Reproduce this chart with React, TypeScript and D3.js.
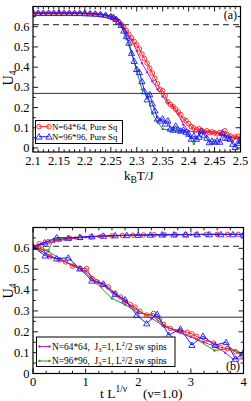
import { useEffect, useRef } from 'react'
import * as d3 from 'd3'

// ── (a) U4 vs k_B T/J, pure square lattice ───────────────────────────────
const TEMPS = [
  2.10, 2.11, 2.12, 2.13, 2.14, 2.15, 2.16, 2.17, 2.18, 2.19, 2.20, 2.21, 2.22, 2.23, 2.24, 2.25,
  2.255, 2.26, 2.265, 2.27, 2.275, 2.28, 2.285, 2.29, 2.295, 2.30,
  2.305, 2.31, 2.315, 2.32, 2.325, 2.33, 2.335, 2.34, 2.345, 2.35,
  2.355, 2.36, 2.365, 2.37, 2.375, 2.38, 2.385, 2.39, 2.395, 2.40,
  2.405, 2.41, 2.415, 2.42, 2.425, 2.43, 2.435, 2.44, 2.445, 2.45,
  2.455, 2.46, 2.465, 2.47, 2.475, 2.48, 2.485, 2.49, 2.495, 2.50,
]
const U4_SQ64 = [
  .667, .667, .667, .667, .667, .667, .667, .667, .666, .666, .665, .664, .662, .659, .655, .648,
  .642, .635, .625, .612, .598, .580, .562, .545, .527, .510,
  .490, .465, .442, .420, .395, .370, .345, .318, .290, .283,
  .258, .228, .215, .205, .192, .178, .165, .142, .135, .120,
  .105, .100, .090, .095, .086, .080, .085, .076, .080, .075,
  .070, .076, .070, .085, .065, .060, .050, .055, .058, .045,
]
const U4_SQ96 = [
  .667, .667, .667, .667, .667, .667, .667, .667, .667, .667, .666, .665, .664, .662, .658, .652,
  .648, .638, .625, .608, .580, .553, .520, .470, .430, .390,
  .375, .330, .280, .240, .265, .220, .185, .145, .135, .145,
  .120, .135, .095, .090, .110, .090, .085, .090, .080, .070,
  .045, .060, .045, .055, .085, .065, .050, .028, .035, .030,
  .036, .030, .075, .050, .050, .045, .020, .004, .025, .035,
]
const TEMPS_J3_64 = [
  2.10, 2.11, 2.12, 2.13, 2.14, 2.15, 2.16, 2.17, 2.18, 2.19, 2.20, 2.21, 2.22, 2.23, 2.24, 2.25,
  2.26, 2.27, 2.28, 2.29, 2.30, 2.31, 2.32, 2.33, 2.34, 2.35, 2.36, 2.37, 2.38, 2.39, 2.40,
  2.41, 2.42, 2.43, 2.44, 2.45, 2.46, 2.47, 2.48, 2.49, 2.50,
]
const U4_J3_64 = [
  .667, .667, .667, .667, .667, .667, .667, .667, .667, .667, .665, .664, .662, .660, .655, .648,
  .635, .612, .575, .535, .480, .420, .375, .330, .290, .255, .225, .205, .165, .115, .085,
  .080, .080, .080, .080, .078, .070, .062, .055, .048, .040,
]
const TEMPS_J3_96 = [
  2.10, 2.11, 2.12, 2.13, 2.14, 2.15, 2.16, 2.17, 2.18, 2.19, 2.20, 2.21, 2.22, 2.23, 2.24, 2.25,
  2.26, 2.27, 2.28, 2.29, 2.30, 2.31, 2.32, 2.33, 2.34, 2.35, 2.36, 2.37, 2.38, 2.39, 2.40,
  2.41, 2.42,
]
const U4_J3_96 = [
  .667, .667, .667, .667, .667, .667, .667, .667, .667, .667, .666, .665, .664, .662, .658, .652,
  .638, .605, .540, .470, .380, .290, .265, .170, .130, .094, .090, .088, .085, .085, .060,
  .020, .070,
]
const TEMP_TICKS = ['2.1', '2.15', '2.2', '2.25', '2.3', '2.35', '2.4', '2.45', '2.5']

// ── (b) U4 vs t L^{1/ν}, two branches per system ─────────────────────────
const T_SQ64_UP = [0, 0.12, 0.29, 0.5, 0.7, 0.9, 1.1, 1.3, 1.5, 1.7, 1.9, 2.1, 2.3, 2.5, 2.7, 2.9, 3.1, 3.3, 3.5, 3.7, 3.9]
const U_SQ64_UP = [.607, .622, .632, .642, .648, .652, .655, .658, .66, .662, .663, .664, .665, .665, .666, .666, .666, .667, .667, .667, .667]
const T_SQ64_DN = [0, 0.1, 0.17, 0.32, 0.5, 0.62, 0.75, 0.9, 1.02, 1.12, 1.21, 1.31, 1.43, 1.56, 1.66, 1.75, 1.85, 1.94, 2.03, 2.16, 2.29, 2.4, 2.48, 2.61, 2.8, 2.93, 3.02, 3.11, 3.27, 3.43, 3.56, 3.7, 3.85, 3.97]
const U_SQ64_DN = [.607, .605, .595, .56, .545, .535, .515, .503, .503, .455, .44, .425, .415, .385, .367, .343, .33, .318, .298, .28, .288, .26, .235, .216, .205, .198, .19, .178, .16, .146, .125, .12, .104, .088]
const T_SQ96_UP = [0, 0.22, 0.45, 0.67, 0.89, 1.12, 1.34, 1.56, 1.78, 2.0, 2.23, 2.45, 2.68, 2.9, 3.12, 3.35, 3.57, 3.8, 4.0]
const U_SQ96_UP = [.607, .628, .652, .65, .654, .657, .66, .662, .663, .664, .665, .666, .666, .666, .667, .667, .667, .667, .667]
const T_SQ96_DN = [0, 0.23, 0.45, 0.67, 0.89, 1.12, 1.34, 1.56, 1.75, 1.97, 2.16, 2.36, 2.58, 2.8, 3.02, 3.23, 3.46, 3.67, 3.85, 3.99]
const U_SQ96_DN = [.607, .565, .551, .555, .503, .445, .43, .38, .355, .28, .24, .285, .184, .214, .136, .18, .136, .15, .07, .097]
const T_J3_64_UP = [0, 0.1, 0.2, 0.4, 0.6, 0.8, 1.0, 1.25, 1.5, 1.75, 2.0, 2.25, 2.5, 2.75, 3.0, 3.25, 3.5, 3.75, 4.0]
const U_J3_64_UP = [.607, .615, .622, .632, .642, .648, .653, .657, .66, .662, .663, .664, .665, .666, .666, .667, .667, .667, .667]
const T_J3_64_DN = [0, 0.25, 0.5, 0.75, 1.0, 1.25, 1.5, 1.75, 2.0, 2.25, 2.5, 2.75, 3.0, 3.25, 3.5, 3.65, 3.8, 4.0]
const U_J3_64_DN = [.607, .575, .545, .52, .49, .44, .39, .345, .30, .265, .225, .20, .175, .15, .125, .10, .07, .07]
const T_J3_96_UP = [0, 0.29, 0.4, 0.6, 0.8, 1.0, 1.25, 1.5, 1.75, 2.0, 2.5, 3.0, 3.5, 4.0]
const U_J3_96_UP = [.607, .59, .645, .65, .652, .655, .658, .66, .662, .664, .665, .666, .667, .667]
const T_J3_96_DN = [0, 0.29, 0.55, 0.8, 0.9, 1.1, 1.5, 1.75, 2.0, 2.25, 2.5, 2.8, 3.1, 3.45, 3.75, 4.0]
const U_J3_96_DN = [.607, .585, .545, .515, .503, .46, .36, .33, .29, .28, .23, .195, .165, .11, .12, .095]
const SCALED_TICKS = ['0', '1', '2', '3', '4']

const U4_TICKS = ['0', '0.1', '0.2', '0.3', '0.4', '0.5', '0.6']
const U4_GAUSS = 0.61   // dashed reference
const U4_LOW = 0.27     // solid reference

const FONT = "'Liberation Serif', 'Times New Roman', serif"
const RED = '#ff1a1a'
const BLUE = '#1a1aff'
const VIOLET = '#a524e0'
const GREEN = '#23962a'

type Marker = 'circle' | 'triangle' | 'dot'
interface Series { xs: number[]; ys: number[]; color: string; marker: Marker }
interface Box { left: number; right: number; top: number; bottom: number }

type G = d3.Selection<SVGGElement, unknown, null, undefined>

function drawMarker(g: G, m: Marker, cx: number, cy: number, color: string) {
  if (m === 'circle') {
    g.append('circle').attr('cx', cx).attr('cy', cy).attr('r', 2.3)
      .attr('fill', 'none').attr('stroke', color).attr('stroke-width', 0.9)
  } else if (m === 'triangle') {
    g.append('path').attr('d', d3.symbol(d3.symbolTriangle, 17)()!)
      .attr('transform', `translate(${cx},${cy + 0.6})`)
      .attr('fill', 'none').attr('stroke', color).attr('stroke-width', 0.9)
  } else {
    g.append('circle').attr('cx', cx).attr('cy', cy).attr('r', 1.2).attr('fill', color)
  }
}

function drawPanel(
  root: G, id: string, box: Box,
  x: d3.ScaleLinear<number, number>, y: d3.ScaleLinear<number, number>,
  series: Series[], xMajor: string[], xMinorStep: number
) {
  const g = root.append('g')
  g.append('clipPath').attr('id', id).append('rect')
    .attr('x', box.left).attr('y', box.top)
    .attr('width', box.right - box.left).attr('height', box.bottom - box.top)

  const plot = g.append('g').attr('clip-path', `url(#${id})`)

  // reference levels
  plot.append('line')
    .attr('x1', box.left).attr('x2', box.right)
    .attr('y1', y(U4_GAUSS)).attr('y2', y(U4_GAUSS))
    .attr('stroke', '#222').attr('stroke-width', 1).attr('stroke-dasharray', '6,4')
  plot.append('line')
    .attr('x1', box.left).attr('x2', box.right)
    .attr('y1', y(U4_LOW)).attr('y2', y(U4_LOW))
    .attr('stroke', '#333').attr('stroke-width', 1)

  for (const s of series) {
    const pts = s.xs.map((v, i) => [x(v), y(s.ys[i])] as [number, number])
    plot.append('path').attr('d', d3.line()(pts)!)
      .attr('fill', 'none').attr('stroke', s.color).attr('stroke-width', 1)
    const mg = plot.append('g')
    pts.forEach(([px, py]) => drawMarker(mg, s.marker, px, py, s.color))
  }

  // frame
  g.append('rect')
    .attr('x', box.left).attr('y', box.top)
    .attr('width', box.right - box.left).attr('height', box.bottom - box.top)
    .attr('fill', 'none').attr('stroke', '#000').attr('stroke-width', 1.2)

  // inward ticks on all four sides
  const ticks = g.append('g').attr('stroke', '#000').attr('stroke-width', 0.9)
  const [x0, x1] = x.domain()
  const xm = xMajor.map(Number)
  for (let v = x0; v <= x1 + 1e-9; v += xMinorStep) {
    const major = xm.some(t => Math.abs(t - v) < 1e-6)
    const len = major ? 5 : 2.8
    const px = x(v)
    ticks.append('line').attr('x1', px).attr('x2', px).attr('y1', box.bottom).attr('y2', box.bottom - len)
    ticks.append('line').attr('x1', px).attr('x2', px).attr('y1', box.top).attr('y2', box.top + len)
  }
  const ym = U4_TICKS.map(Number)
  for (let v = 0; v <= 0.7 + 1e-9; v += 0.05) {
    const major = ym.some(t => Math.abs(t - v) < 1e-6)
    const len = major ? 5 : 2.8
    const py = y(v)
    if (py < box.top + 0.5) continue
    ticks.append('line').attr('x1', box.left).attr('x2', box.left + len).attr('y1', py).attr('y2', py)
    ticks.append('line').attr('x1', box.right).attr('x2', box.right - len).attr('y1', py).attr('y2', py)
  }

  const labels = g.append('g').attr('font-family', FONT).attr('font-size', 12.5).attr('fill', '#000')
  xMajor.forEach(t => {
    labels.append('text').attr('x', x(+t)).attr('y', box.bottom + 12.5)
      .attr('text-anchor', 'middle').text(t)
  })
  U4_TICKS.forEach(t => {
    labels.append('text').attr('x', box.left - 3.5).attr('y', y(+t) + 4)
      .attr('text-anchor', 'end').text(t)
  })
  return g
}

export default function App() {
  const ref = useRef<SVGSVGElement>(null)

  useEffect(() => {
    if (!ref.current) return
    const svg = d3.select(ref.current)
    svg.selectAll('*').remove()
    const root = svg.append('g') as unknown as G

    // ── panel (a) ─────────────────────────────────────────────────────────
    const boxA: Box = { left: 33, right: 240.5, top: 6.5, bottom: 152 }
    const xA = d3.scaleLinear().domain([2.1, 2.5]).range([boxA.left, boxA.right])
    const yA = d3.scaleLinear().domain([-0.02, 0.7]).range([boxA.bottom, boxA.top])
    const a = drawPanel(root, 'clipA', boxA, xA, yA, [
      { xs: TEMPS_J3_96, ys: U4_J3_96, color: GREEN, marker: 'dot' },
      { xs: TEMPS_J3_64, ys: U4_J3_64, color: VIOLET, marker: 'dot' },
      { xs: TEMPS, ys: U4_SQ64, color: RED, marker: 'circle' },
      { xs: TEMPS, ys: U4_SQ96, color: BLUE, marker: 'triangle' },
    ], TEMP_TICKS, 0.01)

    a.append('text').attr('x', 237).attr('y', 18.5).attr('text-anchor', 'end')
      .attr('font-family', FONT).attr('font-size', 12).text('(a)')

    const legA = a.append('g')
    legA.append('rect').attr('x', 35.5).attr('y', 120.5).attr('width', 87).attr('height', 23)
      .attr('fill', '#fff').attr('stroke', '#000').attr('stroke-width', 1)
    ;[
      { label: 'N=64*64, Pure Sq', color: RED, marker: 'circle' as Marker, cy: 126.7 },
      { label: 'N=96*96, Pure Sq', color: BLUE, marker: 'triangle' as Marker, cy: 136.7 },
    ].forEach(e => {
      legA.append('line').attr('x1', 39).attr('x2', 49).attr('y1', e.cy).attr('y2', e.cy)
        .attr('stroke', e.color).attr('stroke-width', 1)
      drawMarker(legA, e.marker, 39, e.cy, e.color)
      drawMarker(legA, e.marker, 49, e.cy, e.color)
      legA.append('text').attr('x', 52).attr('y', e.cy + 3)
        .attr('font-family', FONT).attr('font-size', 8.8).text(e.label)
    })

    const xlabA = a.append('text').attr('x', 124).attr('y', 179.5)
      .attr('font-family', FONT).attr('font-size', 13)
    xlabA.append('tspan').text('k')
    xlabA.append('tspan').attr('dy', 3).attr('font-size', 9.5).text('B')
    xlabA.append('tspan').attr('dy', -3).text('T/J')

    const ylabA = a.append('text').attr('transform', 'translate(12.5,78) rotate(-90)')
      .attr('text-anchor', 'middle').attr('font-family', FONT).attr('font-size', 14)
    ylabA.append('tspan').text('U')
    ylabA.append('tspan').attr('dy', 3).attr('font-size', 9.5).text('4')

    // ── panel (b) ─────────────────────────────────────────────────────────
    const boxB: Box = { left: 33, right: 243.5, top: 227.5, bottom: 373.5 }
    const xB = d3.scaleLinear().domain([0, 4]).range([boxB.left, boxB.right])
    const yB = d3.scaleLinear().domain([0, 0.7]).range([boxB.bottom, boxB.top])
    const b = drawPanel(root, 'clipB', boxB, xB, yB, [
      { xs: T_J3_96_UP, ys: U_J3_96_UP, color: GREEN, marker: 'dot' },
      { xs: T_J3_96_DN, ys: U_J3_96_DN, color: GREEN, marker: 'dot' },
      { xs: T_J3_64_UP, ys: U_J3_64_UP, color: VIOLET, marker: 'dot' },
      { xs: T_J3_64_DN, ys: U_J3_64_DN, color: VIOLET, marker: 'dot' },
      { xs: T_SQ64_UP, ys: U_SQ64_UP, color: RED, marker: 'circle' },
      { xs: T_SQ64_DN, ys: U_SQ64_DN, color: RED, marker: 'circle' },
      { xs: T_SQ96_UP, ys: U_SQ96_UP, color: BLUE, marker: 'triangle' },
      { xs: T_SQ96_DN, ys: U_SQ96_DN, color: BLUE, marker: 'triangle' },
    ], SCALED_TICKS, 0.25)

    const legB = b.append('g')
    legB.append('rect').attr('x', 36.5).attr('y', 337).attr('width', 138.5).attr('height', 29.5)
      .attr('fill', '#fff').attr('stroke', '#000').attr('stroke-width', 1)
    ;[
      { n: 'N=64*64,', color: VIOLET, cy: 346.5 },
      { n: 'N=96*96,', color: GREEN, cy: 361 },
    ].forEach(e => {
      legB.append('line').attr('x1', 39.5).attr('x2', 49.5).attr('y1', e.cy).attr('y2', e.cy)
        .attr('stroke', e.color).attr('stroke-width', 1)
      drawMarker(legB, 'dot', 39.5, e.cy, e.color)
      drawMarker(legB, 'dot', 49.5, e.cy, e.color)
      const t = legB.append('text').attr('x', 52).attr('y', e.cy + 3)
        .attr('font-family', FONT).attr('font-size', 9.4).style('white-space', 'pre')
      t.append('tspan').text(`${e.n}  J`)
      t.append('tspan').attr('dy', 2).attr('font-size', 6.5).text('3')
      t.append('tspan').attr('dy', -2).text('=1, L')
      t.append('tspan').attr('dy', -3.5).attr('font-size', 6.5).text('2')
      t.append('tspan').attr('dy', 3.5).text('/2 sw spins')
    })

    b.append('text').attr('x', 240).attr('y', 369.5).attr('text-anchor', 'end')
      .attr('font-family', FONT).attr('font-size', 12).text('(b)')

    const xlabB = b.append('text').attr('x', 100).attr('y', 397.5)
      .attr('font-family', FONT).attr('font-size', 13.5)
    xlabB.append('tspan').text('t L')
    xlabB.append('tspan').attr('dy', -6).attr('font-size', 9.5).text('1/ν')
    b.append('text').attr('x', 143).attr('y', 397.5)
      .attr('font-family', FONT).attr('font-size', 13.5).text('(ν=1.0)')

    const ylabB = b.append('text').attr('transform', 'translate(12.5,291) rotate(-90)')
      .attr('text-anchor', 'middle').attr('font-family', FONT).attr('font-size', 14)
    ylabB.append('tspan').text('U')
    ylabB.append('tspan').attr('dy', 3).attr('font-size', 9.5).text('4')
  }, [])

  return (
    <svg
      ref={ref}
      width={251}
      height={401}
      viewBox="0 0 251 401"
      style={{ position: 'absolute', left: 0, top: 0, background: '#fff', display: 'block' }}
    />
  )
}
